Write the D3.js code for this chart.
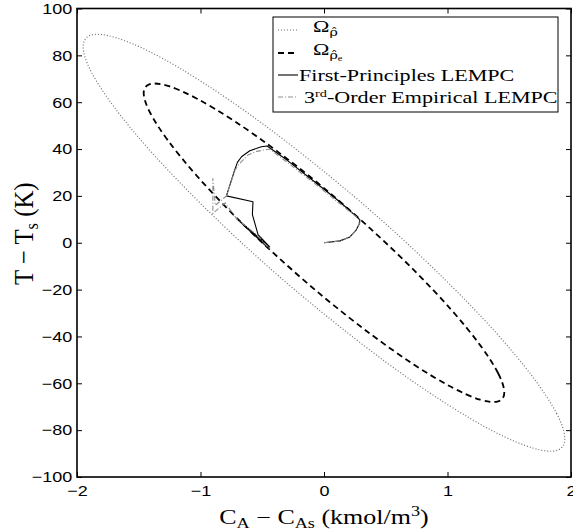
<!DOCTYPE html>
<html>
<head>
<meta charset="utf-8">
<script src="https://cdn.jsdelivr.net/npm/d3@7"></script>
<style>
  body { margin: 0; background: #fff; }
  svg { display: block; }
  .tick text { font-family: "Liberation Sans", Arial, sans-serif; font-size: 15px; fill: #000; }
  .tick line { stroke: #000; stroke-width: 1; }
  .serif { font-family: "Liberation Serif", "Times New Roman", serif; fill: #000; }
</style>
</head>
<body>
<svg id="chart" width="573" height="531"></svg>
<script>
const xTicks = [-2, -1, 0, 1, 2];
const yTicks = [-100, -80, -60, -40, -20, 0, 20, 40, 60, 80, 100];

// boundary of Omega_rho_hat
const outerRegion = [
  [1.95, -83.6], [1.884, -72.9], [1.689, -57.2], [1.379, -37.6], [0.975, -15.5], [0.505, 7.8],
  [0, 30.4], [-0.505, 51.1], [-0.975, 68.2], [-1.379, 80.7], [-1.689, 87.6], [-1.884, 88.7],
  [-1.95, 83.6], [-1.884, 72.9], [-1.689, 57.2], [-1.379, 37.6], [-0.975, 15.5], [-0.505, -7.8],
  [0, -30.4], [0.505, -51.1], [0.975, -68.2], [1.379, -80.7], [1.689, -87.6], [1.884, -88.7]
];

// boundary of Omega_rho_hat_e (dashed curve)
const innerRegion = [
  [1.46, -63.9], [1.41, -55.7], [1.264, -43.7], [1.032, -28.7], [0.73, -11.8], [0.378, 5.9],
  [0, 23.3], [-0.378, 39.0], [-0.73, 52.1], [-1.032, 61.6], [-1.264, 67.0], [-1.41, 67.7],
  [-1.46, 63.9], [-1.41, 55.7], [-1.264, 43.7], [-1.032, 28.7], [-0.73, 11.8], [-0.378, -5.9],
  [0, -23.3], [0.378, -39.0], [0.73, -52.1], [1.032, -61.6], [1.264, -67.0], [1.41, -67.7]
];

const firstPrinciples = [
  [0, 0], [0.13, 0.8], [0.21, 2.5], [0.26, 5.4], [0.288, 8.2], [0.29, 9.9],
  [0.13, 17.4], [-0.1, 27.0], [-0.3, 35.3], [-0.461, 41.3], [-0.507, 41.0],
  [-0.601, 39.3], [-0.668, 36.7], [-0.701, 34.3], [-0.723, 31.1], [-0.79, 20.0],
  [-0.575, 17.5], [-0.58, 12.0], [-0.534, 3.5], [-0.44, -1.8], [-0.709, 10.4],
  [-0.45, -2.4]
];

const empirical = [
  [0, 0], [0.13, 0.8], [0.21, 2.5], [0.26, 5.4], [0.285, 8.2], [0.28, 10.3],
  [0.12, 17.0], [-0.1, 26.3], [-0.3, 34.4], [-0.44, 40.0], [-0.547, 39.0],
  [-0.615, 37.5], [-0.682, 33.9], [-0.72, 31.1], [-0.79, 20.0], [-0.88, 16.0],
  [-0.9, 27.5], [-0.9, 12.5], [-0.8, 17.0], [-0.709, 10.4], [-0.55, 3.6],
  [-0.44, -2.6]
];

const svg = d3.select("#chart");
const x = d3.scaleLinear().domain([-2, 2]).range([77, 571]);
const y = d3.scaleLinear().domain([-100, 100]).range([477, 8.5]);

const textStretch = 1.2;
const intFmt = d3.format("d");

// axes, ticks point inwards on all four sides
const gBottom = svg.append("g").attr("transform", `translate(0,${y(-100)})`)
  .call(d3.axisBottom(x).tickValues(xTicks).tickFormat(intFmt)
    .tickSizeInner(-5).tickSizeOuter(0).tickPadding(8));
const gLeft = svg.append("g").attr("transform", `translate(${x(-2)},0)`)
  .call(d3.axisLeft(y).tickValues(yTicks).tickFormat(intFmt)
    .tickSizeInner(-5).tickSizeOuter(0).tickPadding(4));
svg.append("g").attr("transform", `translate(0,${y(100)})`)
  .call(d3.axisTop(x).tickValues(xTicks).tickSizeInner(-5).tickSizeOuter(0).tickFormat(""));
svg.append("g").attr("transform", `translate(${x(2)},0)`)
  .call(d3.axisRight(y).tickValues(yTicks).tickSizeInner(-5).tickSizeOuter(0).tickFormat(""));
svg.selectAll(".domain").remove();
gBottom.selectAll("text").attr("transform", `scale(${textStretch},1)`);
gLeft.selectAll("text").attr("transform", `scale(${textStretch},1)`);

svg.append("defs").append("clipPath").attr("id", "plotclip")
  .append("rect").attr("x", x(-2)).attr("y", y(100))
  .attr("width", x(2) - x(-2)).attr("height", y(-100) - y(100));

const plot = svg.append("g").attr("clip-path", "url(#plotclip)");
const closed = d3.line().x(d => x(d[0])).y(d => y(d[1])).curve(d3.curveCardinalClosed.tension(0));
const open = d3.line().x(d => x(d[0])).y(d => y(d[1]));

const styles = {
  outer: { stroke: "#6e6e6e", width: 1.2, dash: "1 2" },
  inner: { stroke: "#000", width: 1.8, dash: "6 4" },
  first: { stroke: "#000", width: 1.1, dash: null },
  emp: { stroke: "#8e8e8e", width: 1.1, dash: "5 2 1 2" }
};

function addPath(g, d, s) {
  return g.append("path").attr("d", d).attr("fill", "none")
    .attr("stroke", s.stroke).attr("stroke-width", s.width)
    .attr("stroke-dasharray", s.dash);
}

addPath(plot, closed(outerRegion), styles.outer);
addPath(plot, closed(innerRegion), styles.inner);
addPath(plot, open(firstPrinciples), styles.first).attr("stroke-linejoin", "round");
addPath(plot, open(empirical), styles.emp);

// frame
svg.append("rect").attr("x", x(-2)).attr("y", y(100))
  .attr("width", x(2) - x(-2)).attr("height", y(-100) - y(100))
  .attr("fill", "none").attr("stroke", "#000").attr("stroke-width", 1.6);

// axis labels
const xl = svg.append("text").attr("class", "serif").attr("font-size", 20)
  .attr("text-anchor", "middle").attr("transform", `translate(${x(0)},524) scale(1.3,1)`);
xl.append("tspan").text("C");
xl.append("tspan").attr("font-size", 14).attr("dy", 4).text("A");
xl.append("tspan").attr("dy", -4).text(" − C");
xl.append("tspan").attr("font-size", 14).attr("dy", 4).text("As");
xl.append("tspan").attr("dy", -4).text(" (kmol/m");
xl.append("tspan").attr("font-size", 14).attr("dy", -8).text("3");
xl.append("tspan").attr("dy", 8).text(")");

const yl = svg.append("text").attr("class", "serif").attr("font-size", 21)
  .attr("text-anchor", "middle").attr("transform", `translate(33,${y(0) - 9}) rotate(-90) scale(1.18,1.3)`);
yl.append("tspan").text("T − T");
yl.append("tspan").attr("font-size", 14).attr("dy", 4).text("s");
yl.append("tspan").attr("dy", -4).text(" (K)");

// legend
const legTop = 17;
const legend = svg.append("g");
legend.append("rect").attr("x", 273).attr("y", legTop).attr("width", 285).attr("height", 95)
  .attr("fill", "#fff").attr("stroke", "#000").attr("stroke-width", 1);

const rowY = [legTop + 13, legTop + 36, legTop + 58, legTop + 80];
const rowStyles = [styles.outer, styles.inner, styles.first, styles.emp];
rowStyles.forEach((s, i) => {
  addPath(legend, `M278,${rowY[i]}H298`, s);
});

function legendText(xPos, yPos) {
  return legend.append("text").attr("class", "serif").attr("font-size", 17)
    .attr("transform", `translate(${xPos},${yPos}) scale(1.3,1)`);
}

const t0 = legendText(313, rowY[0] + 2);
t0.append("tspan").text("Ω");
t0.append("tspan").attr("font-family", "DejaVu Serif").attr("font-size", 11)
  .attr("dy", 4).text("ρ\u0302");

const t1 = legendText(313, rowY[1] + 2);
t1.append("tspan").text("Ω");
t1.append("tspan").attr("font-family", "DejaVu Serif").attr("font-size", 11)
  .attr("dy", 4).text("ρ\u0302");
t1.append("tspan").attr("font-size", 8).attr("dy", 2).text("e");

legendText(299, rowY[2] + 6).text("First-Principles LEMPC");

const t3 = legendText(304, rowY[3] + 6);
t3.append("tspan").text("3");
t3.append("tspan").attr("font-size", 11).attr("dy", -6).text("rd");
t3.append("tspan").attr("dy", 6).text("-Order Empirical LEMPC");
</script>
</body>
</html>
